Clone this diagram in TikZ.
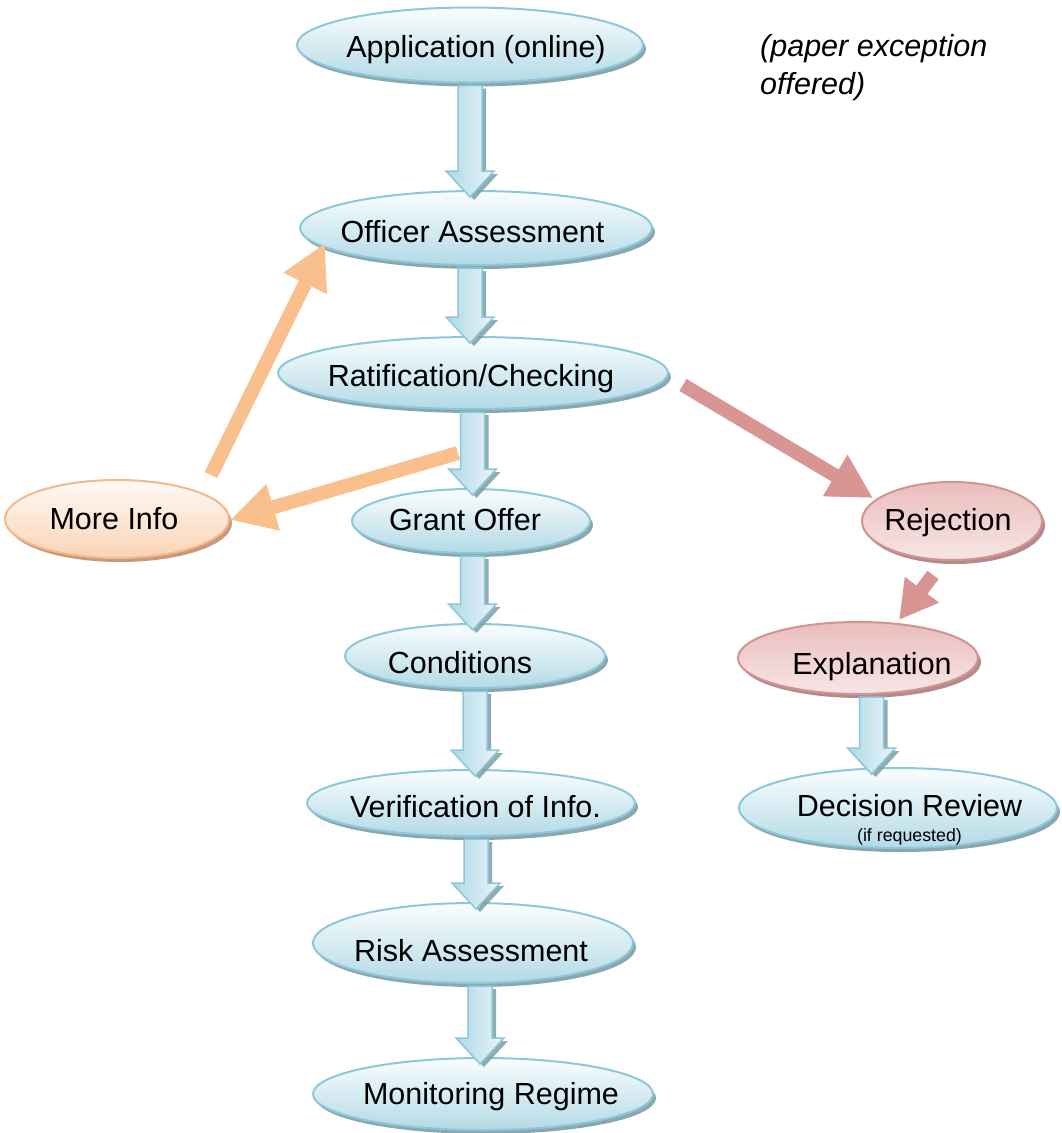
\documentclass[tikz,border=0pt]{standalone}
\usepackage{fontspec}
\setmainfont{Liberation Sans}
\usetikzlibrary{shapes.geometric,shadows,arrows.meta,calc}
\definecolor{bline}{HTML}{8CC8DA}
\definecolor{bbot}{HTML}{B3DAE6}
\definecolor{btop}{HTML}{FAFDFE}
\definecolor{bshadow}{HTML}{7E9EA6}
\definecolor{barleft}{HTML}{AFD9E7}
\definecolor{barright}{HTML}{EAF5F9}
\definecolor{pline}{HTML}{D49290}
\definecolor{ptop}{HTML}{E9BDBC}
\definecolor{pbot}{HTML}{F7E6E6}
\definecolor{pshadow}{HTML}{A88080}
\definecolor{oline}{HTML}{F5B888}
\definecolor{otop}{HTML}{FFFAF6}
\definecolor{obot}{HTML}{FAD3B4}
\definecolor{oshadow}{HTML}{C09070}
\definecolor{oarrow}{HTML}{F9C08E}
\definecolor{rarrow}{HTML}{D99593}
\newcommand\blockarrow[3]{%
  \path[barrow] let \p1=(#1.south), \p2=(#2.north) in
    ({#3pt-12pt},{\y1-3pt}) -- ({#3pt+12pt},{\y1-3pt}) --
    ({#3pt+12pt},{\y2+20pt}) -- ({#3pt+24pt},{\y2+20pt}) --
    ({#3pt},{\y2-6pt}) --
    ({#3pt-24pt},{\y2+20pt}) -- ({#3pt-12pt},{\y2+20pt}) -- cycle;
}
\begin{document}
\begin{tikzpicture}[x=1pt,y=-1pt,
  ell/.style={ellipse, inner sep=0pt, outer sep=0pt, line width=2pt},
  bell/.style={ell, draw=bline, top color=btop, bottom color=bbot,
    drop shadow={shadow xshift=3pt, shadow yshift=-4pt, fill=bshadow, opacity=0.9}},
  pell/.style={ell, draw=pline, top color=ptop, bottom color=pbot,
    drop shadow={shadow xshift=3pt, shadow yshift=-4pt, fill=pshadow, opacity=0.9}},
  oell/.style={ell, draw=oline, top color=otop, bottom color=obot,
    drop shadow={shadow xshift=3pt, shadow yshift=-4pt, fill=oshadow, opacity=0.9}},
  lbl/.style={anchor=base, inner sep=0pt, font=\fontsize{30.5}{36}\selectfont},
  barrow/.style={draw=bline, line width=1.5pt, left color=barleft, right color=barright,
    drop shadow={shadow xshift=4pt, shadow yshift=-3pt, fill=bshadow, opacity=0.85}},
  oar/.style={draw=oarrow, line width=14pt, -{Triangle[width=45pt,length=45pt]}},
  rar/.style={draw=rarrow, line width=14pt, -{Triangle[width=45pt,length=44pt]}},
  rar2/.style={draw=rarrow, line width=14pt, -{Triangle[width=40pt,length=38pt]}}
]
\useasboundingbox (0,0) rectangle (1061,1133);
\fill[white] (0,0) rectangle (1061,1133);

% ellipses
\node[bell, minimum width=346pt, minimum height=75pt] (app) at (470,45) {};
\node[bell, minimum width=352pt, minimum height=74pt] (off) at (476,228) {};
\node[bell, minimum width=390pt, minimum height=72pt] (rat) at (473,373) {};
\node[oell, minimum width=224pt, minimum height=78pt] (more) at (117,519) {};
\node[bell, minimum width=238pt, minimum height=64pt] (grant) at (471,521) {};
\node[bell, minimum width=260pt, minimum height=64pt] (cond) at (475,656) {};
\node[bell, minimum width=328pt, minimum height=66pt] (ver) at (471,803) {};
\node[bell, minimum width=320pt, minimum height=80pt] (risk) at (473,943) {};
\node[bell, minimum width=340pt, minimum height=72pt] (mon) at (483,1094) {};
\node[pell, minimum width=180pt, minimum height=78pt] (rej) at (952,521) {};
\node[pell, minimum width=240pt, minimum height=72pt] (exp) at (858,658) {};
\node[bell, minimum width=318pt, minimum height=80pt] (dec) at (898,808) {};

% labels
\node[lbl] (appt) at (476,57) {Application (online)};
\node[lbl] (offt) at (472.5,242) {Officer Assessment};
\node[lbl] (ratt) at (471,386) {Ratification/Checking};
\node[lbl] (moret) at (114,529) {More Info};
\node[lbl] (grantt) at (465,530) {Grant Offer};
\node[lbl] (condt) at (460,673) {Conditions};
\node[lbl] (vert) at (475.5,817) {Verification of Info.};
\node[lbl] (riskt) at (471,961) {Risk Assessment};
\node[lbl] (mont) at (491,1104) {Monitoring Regime};
\node[lbl] (rejt) at (948,530) {Rejection};
\node[lbl] (expt) at (872,674) {Explanation};
\node[lbl] (dect) at (909.5,816) {Decision Review};
\node[lbl, font=\fontsize{17.8}{20}\selectfont] (decs) at (909.5,841) {(if requested)};
\node[lbl, anchor=base west, font=\fontsize{30.5}{36}\selectfont\itshape] (paper1) at (760,56) {(paper exception};
\node[lbl, anchor=base west, font=\fontsize{30.5}{36}\selectfont\itshape] (paper2) at (760,94) {offered)};

% block arrows
\blockarrow{app}{off}{470}
\blockarrow{off}{rat}{470}
\blockarrow{rat}{grant}{472.5}
\blockarrow{grant}{cond}{472.5}
\blockarrow{cond}{ver}{475}
\blockarrow{ver}{risk}{476}
\blockarrow{risk}{mon}{480}
\blockarrow{exp}{dec}{871.5}

% side arrows
\coordinate (miT) at ($(more.center)+(94,-44)$);
\coordinate (miH) at ($(off.center)+(-151,15)$);
\coordinate (rmT) at ($(rat.center)+(-15,80)$);
\coordinate (rmH) at ($(more.center)+(113,1)$);
\coordinate (rrT) at ($(rat.center)+(210,12)$);
\coordinate (rrH) at ($(rej.center)+(-79,-23)$);
\coordinate (reT) at ($(rej.center)+(-19,54)$);
\coordinate (reH) at ($(exp.center)+(41,-38)$);
\draw[oar] (miT) -- (miH);
\draw[oar] (rmT) -- (rmH);
\draw[rar] (rrT) -- (rrH);
\draw[rar2] (reT) -- (reH);
\end{tikzpicture}
\end{document}
